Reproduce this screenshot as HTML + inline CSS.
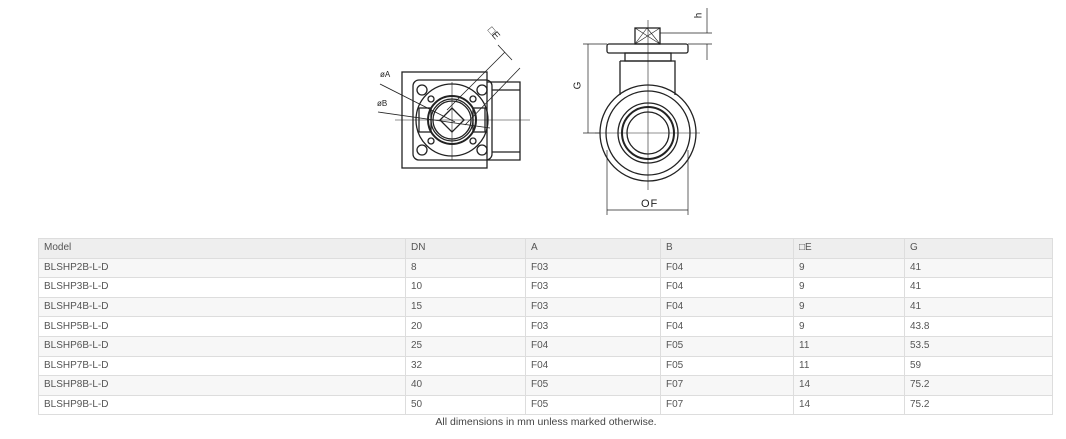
<!DOCTYPE html>
<html><head><meta charset="utf-8"><style>
body{margin:0;width:1066px;height:439px;background:#fff;position:relative;overflow:hidden;font-family:"Liberation Sans",Arial,sans-serif;}
table{position:absolute;left:38px;top:238px;width:1015px;border-collapse:collapse;font-size:10px;color:#555;table-layout:fixed;}
tr{height:19.6px;}
td{border:1px solid #ddd;padding:0 0 0 5px;line-height:12px;box-sizing:border-box;}
tr.h td{background:#eee;}
tr.g td{background:#f7f7f7;}
.cap{position:absolute;left:0;width:1092px;top:416px;text-align:center;font-size:10.5px;color:#444;}
</style></head><body>
<svg width="1066" height="230" style="position:absolute;left:0;top:0" fill="none" stroke="#222" stroke-width="1.3">
<!-- left view -->
<rect x="402" y="72" width="85" height="96"/>
<path d="M487 82 H520 V160 H487"/>
<path d="M492 90 H520 M492 152 H520"/>
<rect x="413" y="80" width="79" height="80" rx="6"/>
<circle cx="452" cy="120" r="36"/>
<circle cx="452" cy="120" r="24" stroke-width="2"/>
<circle cx="452" cy="120" r="21"/>
<circle cx="452" cy="120" r="19"/>
<circle cx="422" cy="90" r="5"/><circle cx="482" cy="90" r="5"/>
<circle cx="422" cy="150" r="5"/><circle cx="482" cy="150" r="5"/>
<circle cx="431" cy="99" r="3"/><circle cx="473" cy="99" r="3"/>
<circle cx="431" cy="141" r="3"/><circle cx="473" cy="141" r="3"/>
<rect x="419" y="108" width="12" height="24"/><rect x="473" y="108" width="12" height="24"/>
<path d="M452 108 L464 120 L452 132 L440 120Z"/>
<path d="M395 120 H530 M452 82 V160" stroke-width="0.6"/>
<path d="M380 84 L455 122 M378 112 L490 128" stroke-width="0.8"/>
<path d="M447 110 L505 52 M465 125 L520 68 M498 45 L512 60" stroke-width="0.8"/>
<!-- right view -->
<rect x="607" y="44" width="81" height="9" rx="2"/>
<rect x="635" y="28" width="25" height="16"/>
<path d="M635 28 L660 44 M660 28 L635 44 M647 28 L660 44 M647 28 L635 44" stroke-width="0.6"/>
<rect x="625" y="53" width="46" height="8"/>
<path d="M620 61 H675 V95 M620 61 V95"/>
<circle cx="648" cy="133" r="48"/>
<circle cx="648" cy="133" r="42"/>
<circle cx="648" cy="133" r="30"/>
<circle cx="648" cy="133" r="26" stroke-width="2"/>
<circle cx="648" cy="133" r="21"/>
<path d="M595 133 H700 M648 20 V190" stroke-width="0.6"/>
<path d="M583 44 H607 M583 133 H600 M588 44 V133 M607 150 V215 M688 150 V215 M607 210 H688" stroke-width="0.7"/>
<path d="M660 33 H712 M688 44 H712 M707 8 V33 M707 44 V60" stroke-width="0.7"/>
</svg>
<div style="position:absolute;left:574px;top:80px;font-size:10px;transform:rotate(-90deg);color:#222">G</div>
<div style="position:absolute;left:641px;top:198px;font-size:11px;color:#222;letter-spacing:1px">OF</div>
<div style="position:absolute;left:696px;top:10px;font-size:10px;transform:rotate(-90deg);color:#222">h</div>
<div style="position:absolute;left:487px;top:28px;font-size:10px;transform:rotate(50deg);color:#222">□E</div>
<div style="position:absolute;left:380px;top:70px;font-size:8px;color:#222">øA</div>
<div style="position:absolute;left:377px;top:99px;font-size:8px;color:#222">øB</div>
<table>
<colgroup><col style="width:367px"><col style="width:120px"><col style="width:135px"><col style="width:133px"><col style="width:111px"><col></colgroup>
<tr class="h"><td>Model</td><td>DN</td><td>A</td><td>B</td><td>□E</td><td>G</td></tr>
<tr class="g"><td>BLSHP2B-L-D</td><td>8</td><td>F03</td><td>F04</td><td>9</td><td>41</td></tr>
<tr><td>BLSHP3B-L-D</td><td>10</td><td>F03</td><td>F04</td><td>9</td><td>41</td></tr>
<tr class="g"><td>BLSHP4B-L-D</td><td>15</td><td>F03</td><td>F04</td><td>9</td><td>41</td></tr>
<tr><td>BLSHP5B-L-D</td><td>20</td><td>F03</td><td>F04</td><td>9</td><td>43.8</td></tr>
<tr class="g"><td>BLSHP6B-L-D</td><td>25</td><td>F04</td><td>F05</td><td>11</td><td>53.5</td></tr>
<tr><td>BLSHP7B-L-D</td><td>32</td><td>F04</td><td>F05</td><td>11</td><td>59</td></tr>
<tr class="g"><td>BLSHP8B-L-D</td><td>40</td><td>F05</td><td>F07</td><td>14</td><td>75.2</td></tr>
<tr><td>BLSHP9B-L-D</td><td>50</td><td>F05</td><td>F07</td><td>14</td><td>75.2</td></tr>
</table>
<div class="cap">All dimensions in mm unless marked otherwise.</div>
</body></html>
